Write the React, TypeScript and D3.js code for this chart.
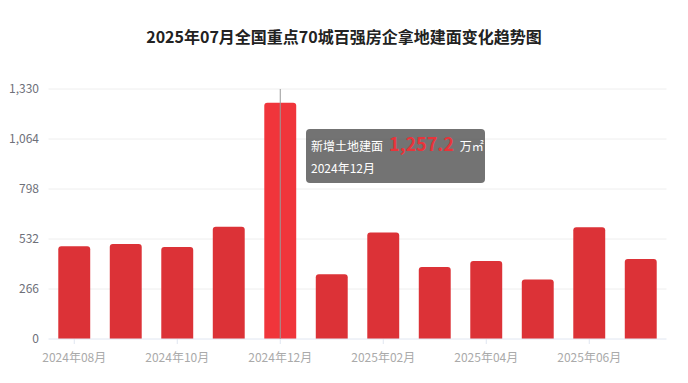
import React from "react";
import * as d3 from "d3";

const title = "2025年07月全国重点70城百强房企拿地建面变化趋势图";
const categories = ["2024年08月","2024年09月","2024年10月","2024年11月","2024年12月","2025年01月","2025年02月","2025年03月","2025年04月","2025年05月","2025年06月","2025年07月"];
const values = [493, 505, 489, 597, 1257.2, 344, 567, 383, 415, 316, 594, 426];
const yTicks = [0, 266, 532, 798, 1064, 1330];
const highlightIndex = 4;
const tooltipLabel = "新增土地建面";
const tooltipUnit = "万㎡";

const W = 688, H = 383;
const margin = { left: 48.5, right: 21.5, top: 89, bottom: 44 };

export default function App() {
  const x = d3.scaleBand<string>().domain(categories).range([margin.left, W - margin.right]).paddingInner(0.38).paddingOuter(0.19);
  const xc = d3.scaleBand<string>().domain(categories).range([margin.left, W - margin.right]);
  const y = d3.scaleLinear().domain([0, 1330]).range([H - margin.bottom, margin.top]);
  const fmt = d3.format(",");
  const font = "'Microsoft YaHei', 'Noto Sans CJK SC', sans-serif";
  const hc = categories[highlightIndex];
  const hx = xc(hc)! + xc.bandwidth() / 2;
  const tx = 306, ty = 129;
  return (
    <svg width={W} height={H} style={{ position: "absolute", left: 0, top: 0 }} fontFamily={font}>
      <rect width={W} height={H} fill="#fff" />
      <text x={W / 2} y={43} textAnchor="middle" fontSize={16} fontWeight="bold" fill="#222">{title}</text>
      {yTicks.map(t => (
        <g key={t}>
          {t > 0 && <line x1={margin.left} x2={W - margin.right} y1={y(t)} y2={y(t)} stroke="#eeeeee" />}
          <text x={39} y={y(t)} dy="0.35em" textAnchor="end" fontSize={12} fill="#6e7079">{fmt(t)}</text>
        </g>
      ))}
      {categories.map((c, i) => {
        const bx = x(c)!, bw = x.bandwidth();
        const top = y(values[i]), bot = y(0);
        const r = 3;
        const d = `M${bx},${bot}V${top + r}Q${bx},${top} ${bx + r},${top}H${bx + bw - r}Q${bx + bw},${top} ${bx + bw},${top + r}V${bot}Z`;
        return <path key={c} d={d} fill={i === highlightIndex ? "#f0353b" : "#dc3237"} />;
      })}
      <line x1={margin.left} x2={W - margin.right} y1={y(0)} y2={y(0)} stroke="#e0e6f1" />
      {categories.map((c, i) => i % 2 === 0 ? (
        <g key={c}>
          <line x1={xc(c)! + xc.bandwidth() / 2} x2={xc(c)! + xc.bandwidth() / 2} y1={y(0)} y2={y(0) + 5} stroke="#e0e6f1" />
          <text x={xc(c)! + xc.bandwidth() / 2} y={y(0) + 19} dy="0.35em" textAnchor="middle" fontSize={12} fill="#aaaaaa">{c}</text>
        </g>
      ) : null)}
      <line x1={hx} x2={hx} y1={margin.top} y2={y(0)} stroke="#999" strokeWidth={1} />
      <rect x={tx} y={ty} width={179} height={54} rx={4} fill="#505050" fillOpacity={0.8} />
      <text x={tx + 5} y={ty + 22} fontSize={12} fill="#fff">
        {tooltipLabel}
        <tspan dx={6} fontSize={18} fontWeight="bold" fill="#e8343a">{fmt(values[highlightIndex])}</tspan>
        <tspan dx={6} fontSize={12} fill="#fff">{tooltipUnit}</tspan>
      </text>
      <text x={tx + 5} y={ty + 44} fontSize={12} fill="#fff">{hc}</text>
    </svg>
  );
}
